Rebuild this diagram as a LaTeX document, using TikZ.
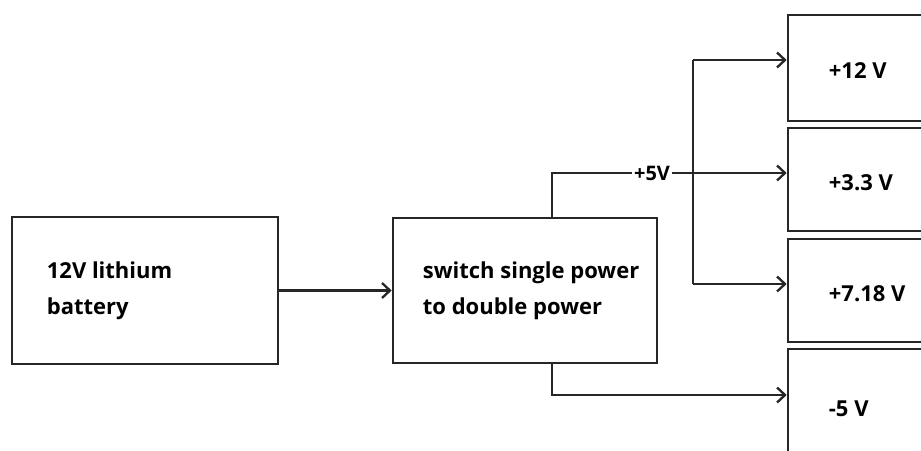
\documentclass[tikz,border=0pt]{standalone}
\usepackage{fontspec}
\setmainfont{Open Sans}
\usetikzlibrary{arrows.meta}
\tikzset{
  % --- blocks ----------------------------------------------------------------
  blk/.style={rectangle,draw=black!85,line width=2.6pt,fill=white,inner sep=0pt},
  txt/.style={anchor=west,align=left,inner sep=0pt,
              font=\bfseries\fontsize{22}{36}\selectfont},
  vlab/.style={fill=white,inner xsep=2pt,inner ysep=1pt,
               font=\bfseries\fontsize{20}{22}\selectfont},
  % --- wires -----------------------------------------------------------------
  wire/.style={black!85,line width=2.3pt},
  arr/.style={wire,-{Straight Barb[length=8pt,width=15pt,line width=2.3pt]}},
}
\begin{document}
\begin{tikzpicture}[x=1pt,y=-1pt]
  \useasboundingbox (0,0) rectangle (921,450);
  \clip (0,0) rectangle (921,450);

  % source and converter
  \node[blk,minimum width=266pt,minimum height=147pt] (bat) at (145,290.5) {};
  \node[txt] (battxt) at ([xshift=36pt]bat.west) {12V lithium\\battery};
  \node[blk,minimum width=264pt,minimum height=145pt] (sw) at (525,290.5) {};
  \node[txt] (swtxt) at ([xshift=31pt]sw.west) {switch single power\\to double power};

  % output rails, cut off at the right edge
  \foreach \n/\y/\h/\v in {1/68/106/+12 V, 2/179.5/103/+3.3 V,
                           3/290.5/103/+7.18 V, 4/406/114/-5 V}{
    \node[blk,minimum width=180pt,minimum height=\h pt] (o\n) at (878,\y) {};
    \node[txt] (o\n txt) at ([xshift=42pt,yshift=-3pt]o\n.west) {\v};
  }

  \draw[arr] (bat.east) -- (sw.west);

  % +5V branch
  \node[vlab] (v5) at (652,173) {+5V};
  \coordinate (b1) at (693,60);
  \coordinate (b3) at (693,284);
  \draw[wire] ([xshift=27pt]sw.north) |- (v5.west);
  \draw[arr] (v5.east) -- (o2.west |- v5);
  \draw[wire] (b1) -- (b3);
  \draw[arr] (b1) -- (o1.west |- b1);
  \draw[arr] (b3) -- (o3.west |- b3);

  % -5V branch
  \draw[arr] ([xshift=27pt]sw.south) |- ([yshift=11pt]o4.west);
\end{tikzpicture}
\end{document}
